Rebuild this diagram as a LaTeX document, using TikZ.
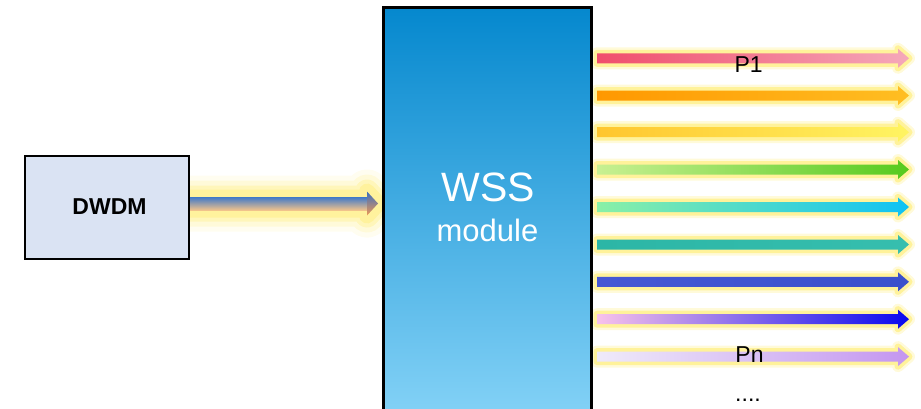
\documentclass[tikz,border=0pt]{standalone}
\usepackage{fontspec}
\setmainfont{Liberation Sans}
\usetikzlibrary{calc}
\definecolor{glowc}{HTML}{FFEE80}
\definecolor{wssTop}{HTML}{0588CE}
\definecolor{wssMid}{HTML}{20B6F2}
\definecolor{wssBot}{HTML}{82D1F6}
\definecolor{dwdmFill}{HTML}{DAE3F3}
\definecolor{inTop}{HTML}{3F78C8}
\definecolor{inMid}{HTML}{8CB4E0}
\definecolor{inBot}{HTML}{F0C28C}
\definecolor{hdTop}{HTML}{3A6EC0}
\definecolor{hdBot}{HTML}{EE9A55}
\newcommand{\arrowshape}[2]{($(#1)+(0,-5)$) -- ($(#2)+(-11,-5)$) -- ($(#2)+(-11,-9.5)$) -- (#2) -- ($(#2)+(-11,9.5)$) -- ($(#2)+(-11,5)$) -- ($(#1)+(0,5)$) -- cycle}
\newcommand{\glowarrow}[4]{%
  \path[draw=glowc, line width=12, opacity=0.3, line join=round] \arrowshape{#1}{#2};
  \path[draw=glowc, line width=7, opacity=0.7, line join=round] \arrowshape{#1}{#2};
  \shade[left color=#3, right color=#4] \arrowshape{#1}{#2};
}
\tikzset{
  box/.style={draw=black, line width=2.2pt},
  lbl/.style={anchor=base, inner sep=0pt, text=black},
}
\begin{document}
\begin{tikzpicture}[x=1pt, y=-1pt]
\useasboundingbox (0,0) rectangle (921,408);
% input arrow glow
\coordinate (ins) at (186,203.5);
\coordinate (ine) at (378,203.5);
\foreach \w/\o in {44/0.12, 34/0.2, 24/0.35, 16/0.5} {
  \path[draw=glowc, line width=\w, opacity=\o, line join=round]
    ($(ins)+(0,-6)$) -- ($(ine)+(-11,-6)$) -- ($(ine)+(-11,-12)$) -- (ine) -- ($(ine)+(-11,12)$) -- ($(ine)+(-11,6)$) -- ($(ins)+(0,6)$) -- cycle;
}
\shade[top color=inTop, middle color=inMid, bottom color=inBot]
    ($(ins)+(0,-6.5)$) rectangle ($(ine)+(-10.5,6.5)$);
\shade[top color=hdTop, middle color=inMid, bottom color=hdBot]
    ($(ine)+(-11,-12)$) -- (ine) -- ($(ine)+(-11,12)$) -- cycle;
% output arrows
\foreach \i/\y/\cl/\cr in {
  1/58.3/F04E6C/F5A8BA,
  2/95.5/FF9800/FFBE22,
  3/132.2/FFC62E/FFF462,
  4/169.5/C8F092/56CA1E,
  5/207/8AF0A6/0EC2F4,
  6/244.5/2CB6A6/36BEAE,
  7/281.8/4658D4/3A50CC,
  8/319.2/F8C2EA/0808EE,
  9/356.6/EFEAF9/C496F0} {
  \definecolor{cL}{HTML}{\cl}
  \definecolor{cR}{HTML}{\cr}
  \coordinate (s\i) at (597,\y);
  \coordinate (e\i) at (909,\y);
  \glowarrow{s\i}{e\i}{cL}{cR}
}
% boxes
\node[box, fill=dwdmFill, minimum width=163.5pt, minimum height=102.5pt, inner sep=0pt, anchor=north west] (dwdm) at (24,155) {};
\node[font=\bfseries\fontsize{23}{23}\selectfont, inner sep=0pt] (dwdmlbl) at (109.5,207) {DWDM};
\shade[top color=wssTop, middle color=wssMid, bottom color=wssBot] (383.5,7.5) rectangle (591.5,412);
\draw[line width=2.5pt] (383.5,412) -- (383.5,7.5) -- (591.5,7.5) -- (591.5,412);
\coordinate (wss) at (487.5,200);
\node[lbl, text=white, font=\fontsize{41}{41}\selectfont] (wsst) at (488,201.7) {WSS};
\node[lbl, text=white, font=\fontsize{31}{31}\selectfont] (modt) at (487.5,241.7) {module};
% labels
\node[lbl, font=\fontsize{23}{23}\selectfont] (p1) at (748.7,72.7) {P1};
\node[lbl, font=\fontsize{23}{23}\selectfont] (pn) at (749.5,362) {Pn};
\node[lbl, font=\fontsize{23}{23}\selectfont] (dots) at (748,401) {....};
\end{tikzpicture}
\end{document}
